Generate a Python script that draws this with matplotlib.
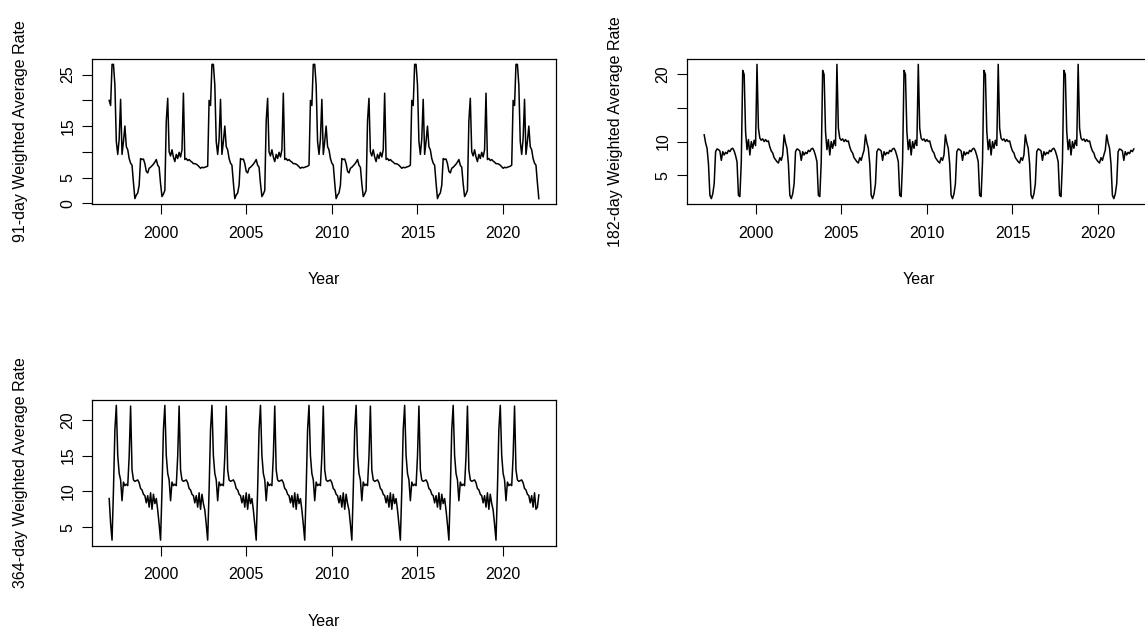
import matplotlib.pyplot as plt
import numpy as np

plt.rcParams['font.family'] = ['Liberation Sans', 'DejaVu Sans']
plt.rcParams['font.size'] = 11.5

# monthly series, first observation Jan 1997
start_year = 1997
freq = 12

rate_91 = [
    20, 19, 27, 27, 23, 12, 9.5, 12.5, 20.2, 9.5, 12, 15,          # 1997
    11, 10.4, 8.7, 7.8, 7.4, 4, 0.9, 1.6, 2, 3.5, 8.7, 8.5,        # 1998
    8.6, 7.7, 6.2, 5.9, 6.8, 7.0, 7.3, 7.6, 8.0, 8.5, 7.4, 7.0,    # 1999
    3.8, 1.3, 1.8, 2.5, 16, 20.4, 10, 9.2, 10.4, 9, 8.1, 9.5,      # 2000
    8.7, 9.9, 9, 10.4, 21.4, 8.5, 8.7, 8.3, 8.5, 8.2, 8.0, 7.7,    # 2001
    7.7, 7.6, 7.4, 7.1, 6.8, 7.0, 6.9, 7.0, 7.1, 7.2, 20, 19,      # 2002
    27, 27, 23, 12, 9.5, 12.5, 20.2, 9.5, 12, 15, 11, 10.4,        # 2003
    8.7, 7.8, 7.4, 4, 0.9, 1.6, 2, 3.5, 8.7, 8.5, 8.6, 7.7,        # 2004
    6.2, 5.9, 6.8, 7.0, 7.3, 7.6, 8.0, 8.5, 7.4, 7.0, 3.8, 1.3,    # 2005
    1.8, 2.5, 16, 20.4, 10, 9.2, 10.4, 9, 8.1, 9.5, 8.7, 9.9,      # 2006
    9, 10.4, 21.4, 8.5, 8.7, 8.3, 8.5, 8.2, 8.0, 7.7, 7.7, 7.6,    # 2007
    7.4, 7.1, 6.8, 7.0, 6.9, 7.0, 7.1, 7.2, 7.4, 20, 19, 27,       # 2008
    27, 23, 12, 9.5, 12.5, 20.2, 9.5, 12, 15, 11, 10.4, 8.7,       # 2009
    7.8, 7.4, 4, 0.9, 1.6, 2, 3.5, 8.7, 8.5, 8.6, 7.7, 6.2,        # 2010
    5.9, 6.8, 7.0, 7.3, 7.6, 8.0, 8.5, 7.4, 7.0, 3.8, 1.3, 1.8,    # 2011
    2.5, 16, 20.4, 10, 9.2, 10.4, 9, 8.1, 9.5, 8.7, 9.9, 9,        # 2012
    10.4, 21.4, 8.5, 8.7, 8.3, 8.5, 8.2, 8.0, 7.7, 7.7, 7.6, 7.4,  # 2013
    7.1, 6.8, 7.0, 6.9, 7.0, 7.1, 7.2, 7.4, 20, 19, 27, 27,        # 2014
    23, 12, 9.5, 12.5, 20.2, 9.5, 12, 15, 11, 10.4, 8.7, 7.8,      # 2015
    7.4, 4, 0.9, 1.6, 2, 3.5, 8.7, 8.5, 8.6, 7.7, 6.2, 5.9,        # 2016
    6.8, 7.0, 7.3, 7.6, 8.0, 8.5, 7.4, 7.0, 3.8, 1.3, 1.8, 2.5,    # 2017
    16, 20.4, 10, 9.2, 10.4, 9, 8.1, 9.5, 8.7, 9.9, 9, 10.4,       # 2018
    21.4, 8.5, 8.7, 8.3, 8.5, 8.2, 8.0, 7.7, 7.7, 7.6, 7.4, 7.1,   # 2019
    6.8, 7.0, 6.9, 7.0, 7.1, 7.2, 7.4, 20, 19, 27, 27, 23,         # 2020
    12, 9.5, 12.5, 20.2, 9.5, 12, 15, 11, 10.4, 8.7, 7.8, 7.4,     # 2021
    4, 0.9,                                                        # 2022
]

rate_182 = [
    11.0, 9.8, 9.0, 6.7, 2.0, 1.5, 2.2, 3.7, 8.5, 8.9, 8.8, 8.6,       # 1997
    7.2, 8.5, 8.0, 8.4, 8.2, 8.7, 8.5, 8.9, 9.0, 8.6, 7.9, 7.0,        # 1998
    2.0, 1.8, 7.0, 20.6, 20.0, 11.5, 8.8, 10.3, 8.0, 10.0, 9.0, 10.2,  # 1999
    9.4, 21.5, 12.0, 10.5, 10.2, 10.4, 10.0, 10.3, 10.0, 10.1, 9.2, 8.6,  # 2000
    8.3, 7.6, 7.3, 7.0, 6.8, 7.6, 7.2, 8.0, 11.0, 9.8, 9.0, 6.7,       # 2001
    2.0, 1.5, 2.2, 3.7, 8.5, 8.9, 8.8, 8.6, 7.2, 8.5, 8.0, 8.4,        # 2002
    8.2, 8.7, 8.5, 8.9, 9.0, 8.6, 7.9, 7.0, 2.0, 1.8, 7.0, 20.6,       # 2003
    20.0, 11.5, 8.8, 10.3, 8.0, 10.0, 9.0, 10.2, 9.4, 21.5, 12.0, 10.5,  # 2004
    10.2, 10.4, 10.0, 10.3, 10.0, 10.1, 9.2, 8.6, 8.3, 7.6, 7.3, 7.0,  # 2005
    6.8, 7.6, 7.2, 8.0, 8.7, 11.0, 9.8, 9.0, 6.7, 2.0, 1.5, 2.2,       # 2006
    3.7, 8.5, 8.9, 8.8, 8.6, 7.2, 8.5, 8.0, 8.4, 8.2, 8.7, 8.5,        # 2007
    8.9, 9.0, 8.6, 7.9, 7.0, 2.0, 1.8, 7.0, 20.6, 20.0, 11.5, 8.8,     # 2008
    10.3, 8.0, 10.0, 9.0, 10.2, 9.4, 21.5, 12.0, 10.5, 10.2, 10.4, 10.0,  # 2009
    10.3, 10.0, 10.1, 9.2, 8.6, 8.3, 7.6, 7.3, 7.0, 6.8, 7.6, 7.2,     # 2010
    8.0, 11.0, 9.8, 9.0, 6.7, 2.0, 1.5, 2.2, 3.7, 8.5, 8.9, 8.8,       # 2011
    8.6, 7.2, 8.5, 8.0, 8.4, 8.2, 8.7, 8.5, 8.9, 9.0, 8.6, 7.9,        # 2012
    7.0, 2.0, 1.8, 7.0, 20.6, 20.0, 11.5, 8.8, 10.3, 8.0, 10.0, 9.0,   # 2013
    10.2, 9.4, 21.5, 12.0, 10.5, 10.2, 10.4, 10.0, 10.3, 10.0, 10.1, 9.2,  # 2014
    8.6, 8.3, 7.6, 7.3, 7.0, 6.8, 7.6, 7.2, 8.0, 11.0, 9.8, 9.0,       # 2015
    6.7, 2.0, 1.5, 2.2, 3.7, 8.5, 8.9, 8.8, 8.6, 7.2, 8.5, 8.0,        # 2016
    8.4, 8.2, 8.7, 8.5, 8.9, 9.0, 8.6, 7.9, 7.0, 2.0, 1.8, 7.0,        # 2017
    20.6, 20.0, 11.5, 8.8, 10.3, 8.0, 10.0, 9.0, 10.2, 9.4, 21.5, 12.0,  # 2018
    10.5, 10.2, 10.4, 10.0, 10.3, 10.0, 10.1, 9.2, 8.6, 8.3, 7.6, 7.3,  # 2019
    7.0, 6.8, 7.6, 7.2, 8.0, 8.7, 11.0, 9.8, 9.0, 6.7, 2.0, 1.5,       # 2020
    2.2, 3.7, 8.5, 8.9, 8.8, 8.6, 7.2, 8.5, 8.0, 8.4, 8.2, 8.7,        # 2021
    8.5, 8.9,                                                          # 2022
]

rate_364 = [
    9.0, 5.5, 3.2, 10.2, 18.6, 22.0, 15.0, 12.5, 11.6, 8.7, 11.3, 10.8,     # 1997
    11.0, 10.8, 14.9, 21.9, 13.0, 11.6, 11.4, 11.5, 11.6, 11.2, 10.4, 10.2,  # 1998
    9.6, 9.4, 8.4, 9.4, 7.8, 9.8, 7.5, 9.6, 8.3, 9.0, 7.4, 5.4,             # 1999
    3.2, 10.2, 18.6, 22.0, 15.0, 12.5, 11.6, 8.7, 11.3, 10.8, 11.0, 10.8,   # 2000
    14.9, 21.9, 13.0, 11.6, 11.4, 11.5, 11.6, 11.2, 10.4, 10.2, 9.6, 9.4,   # 2001
    8.4, 9.4, 7.8, 9.8, 7.5, 9.6, 8.3, 7.4, 5.4, 3.2, 10.2, 18.6,           # 2002
    22.0, 15.0, 12.5, 11.6, 8.7, 11.3, 10.8, 11.0, 10.8, 14.9, 21.9, 13.0,  # 2003
    11.6, 11.4, 11.5, 11.6, 11.2, 10.4, 10.2, 9.6, 9.4, 8.4, 9.4, 7.8,      # 2004
    9.8, 7.5, 9.6, 8.3, 9.0, 7.4, 5.4, 3.2, 10.2, 18.6, 22.0, 15.0,         # 2005
    12.5, 11.6, 8.7, 11.3, 10.8, 11.0, 10.8, 14.9, 21.9, 13.0, 11.6, 11.4,  # 2006
    11.5, 11.6, 11.2, 10.4, 10.2, 9.6, 9.4, 8.4, 9.4, 7.8, 9.8, 7.5,        # 2007
    9.6, 8.3, 9.0, 7.4, 5.4, 3.2, 10.2, 18.6, 22.0, 15.0, 12.5, 11.6,       # 2008
    8.7, 11.3, 10.8, 11.0, 10.8, 14.9, 21.9, 13.0, 11.6, 11.4, 11.5, 11.6,  # 2009
    11.2, 10.4, 10.2, 9.6, 9.4, 8.4, 9.4, 7.8, 9.8, 7.5, 9.6, 8.3,          # 2010
    7.4, 5.4, 3.2, 10.2, 18.6, 22.0, 15.0, 12.5, 11.6, 8.7, 11.3, 10.8,     # 2011
    11.0, 10.8, 14.9, 21.9, 13.0, 11.6, 11.4, 11.5, 11.6, 11.2, 10.4, 10.2,  # 2012
    9.6, 9.4, 8.4, 9.4, 7.8, 9.8, 7.5, 9.6, 8.3, 9.0, 7.4, 5.4,             # 2013
    3.2, 10.2, 18.6, 22.0, 15.0, 12.5, 11.6, 8.7, 11.3, 10.8, 11.0, 10.8,   # 2014
    14.9, 21.9, 13.0, 11.6, 11.4, 11.5, 11.6, 11.2, 10.4, 10.2, 9.6, 9.4,   # 2015
    8.4, 9.4, 7.8, 9.8, 7.5, 9.6, 8.3, 9.0, 7.4, 5.4, 3.2, 10.2,            # 2016
    18.6, 22.0, 15.0, 12.5, 11.6, 8.7, 11.3, 10.8, 11.0, 10.8, 14.9, 21.9,  # 2017
    13.0, 11.6, 11.4, 11.5, 11.6, 11.2, 10.4, 10.2, 9.6, 9.4, 8.4, 9.4,     # 2018
    7.8, 9.8, 7.5, 9.6, 8.3, 7.4, 5.4, 3.2, 10.2, 18.6, 22.0, 15.0,         # 2019
    12.5, 11.6, 8.7, 11.3, 10.8, 11.0, 10.8, 14.9, 21.9, 13.0, 11.6, 11.4,  # 2020
    11.5, 11.6, 11.2, 10.4, 10.2, 9.6, 9.4, 8.4, 9.4, 7.8, 9.8, 7.5,        # 2021
    7.8, 9.5,                                                               # 2022
]

year_ticks = [2000, 2005, 2010, 2015, 2020]

yticks_91 = [0, 5, 10, 15, 20, 25]
ylabels_91 = ['0', '5', '', '15', '', '25']      # base R drops labels that would overlap
yticks_182 = [5, 10, 15, 20]
ylabels_182 = ['5', '10', '', '20']
yticks_364 = [5, 10, 15, 20]
ylabels_364 = ['5', '10', '15', '20']


def ts_time(values):
    return start_year + np.arange(len(values)) / freq


def draw_panel(ax, values, ylabel, yticks, ylabels):
    ax.plot(ts_time(values), values, color='black', linewidth=1.1)
    ax.margins(x=0.04, y=0.04)

    ax.set_xticks(year_ticks)
    ax.set_xticklabels([str(y) for y in year_ticks])
    ax.set_yticks(yticks)
    ax.set_yticklabels(ylabels)
    ax.tick_params(axis='both', direction='out', length=7.5, width=0.8, colors='black')
    ax.tick_params(axis='x', pad=8)
    ax.tick_params(axis='y', pad=4.5, labelrotation=90)
    for lab in ax.get_yticklabels():
        lab.set_va('center')

    for sp in ax.spines.values():
        sp.set_linewidth(0.9)
        sp.set_color('black')

    ax.set_xlabel('Year')
    ax.xaxis.set_label_coords(0.5, -0.52)
    ax.xaxis.label.set_va('center')
    ax.set_ylabel(ylabel)
    ax.yaxis.set_label_coords(-0.155, 0.5)
    ax.yaxis.label.set_va('center')


W, H = 1145, 633
fig = plt.figure(figsize=(W / 100, H / 100), dpi=100)


def px_axes(left, top, width, height):
    return fig.add_axes([left / W, 1 - (top + height) / H, width / W, height / H])


ax1 = px_axes(92, 59, 464, 145)
ax2 = px_axes(687, 59, 464, 145)
ax3 = px_axes(92, 400, 464, 145.5)

draw_panel(ax1, rate_91, '91-day Weighted Average Rate', yticks_91, ylabels_91)
draw_panel(ax2, rate_182, '182-day Weighted Average Rate', yticks_182, ylabels_182)
draw_panel(ax3, rate_364, '364-day Weighted Average Rate', yticks_364, ylabels_364)

fig.savefig('out.png', dpi=100)
